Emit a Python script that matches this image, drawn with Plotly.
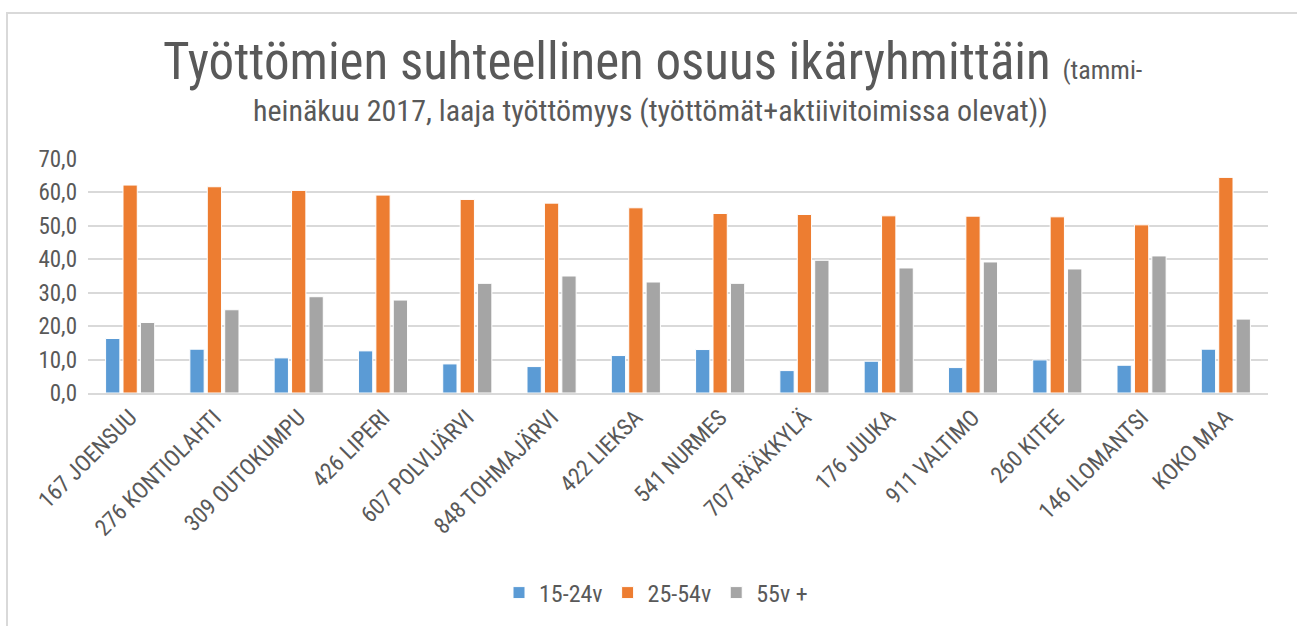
import plotly.graph_objects as go

categories = ["167 JOENSUU", "276 KONTIOLAHTI", "309 OUTOKUMPU", "426 LIPERI", "607 POLVIJÄRVI",
              "848 TOHMAJÄRVI", "422 LIEKSA", "541 NURMES", "707 RÄÄKKYLÄ", "176 JUUKA",
              "911 VALTIMO", "260 KITEE", "146 ILOMANTSI", "KOKO MAA"]
v_15_24 = [16.3, 13.1, 10.5, 12.6, 8.7, 7.9, 11.2, 13.0, 6.7, 9.5, 7.6, 9.9, 8.3, 13.1]
v_25_54 = [62.2, 61.7, 60.6, 59.2, 57.9, 56.8, 55.4, 53.7, 53.4, 53.0, 52.9, 52.7, 50.3, 64.5]
v_55 = [21.1, 24.9, 28.8, 27.8, 32.8, 35.0, 33.2, 32.8, 39.7, 37.4, 39.2, 37.1, 41.0, 22.1]
series_names = ["15-24v", "25-54v", "55v +"]
colors = ["#5B9BD5", "#ED7D31", "#A5A5A5"]

FONT = "Liberation Sans Narrow, Roboto Condensed, Lato, sans-serif"
TXT = "#595959"

fig = go.Figure()
for name, vals, c in zip(series_names, [v_15_24, v_25_54, v_55], colors):
    fig.add_trace(go.Bar(x=categories, y=vals, name=name,
                         marker=dict(color=c, line=dict(color="white", width=1))))

W, H = 1297, 626
ml, mr, mt, mb = 88, 29, 159, 233
pw, ph = W - ml - mr, H - mt - mb


def px(x):
    return (x - ml) / pw


def py(y):
    return (H - mb - y) / ph


fig.update_layout(
    width=W, height=H,
    margin=dict(l=ml, r=mr, t=mt, b=mb, autoexpand=False),
    paper_bgcolor="white", plot_bgcolor="white",
    separators=", ",
    barmode="group", bargap=0.38, bargroupgap=0.18,
    font=dict(family=FONT, color=TXT, size=23),
    legend=dict(orientation="h", x=px(656), xanchor="center", y=py(593), yanchor="middle",
                font=dict(size=24, color=TXT), traceorder="normal", itemwidth=30),
    xaxis=dict(tickangle=-45, showgrid=False, showline=True, linecolor="#D9D9D9", linewidth=2,
               ticks="", tickfont=dict(size=23, color=TXT)),
    yaxis=dict(range=[0, 70], dtick=10, tickformat=".1f", showgrid=True, gridcolor="#D9D9D9",
               gridwidth=2, zeroline=False, showline=False, ticks="",
               tickfont=dict(size=23, color=TXT), ticklabelstandoff=10),
    shapes=[dict(type="rect", xref="paper", yref="paper",
                 x0=px(7), x1=px(1320), y0=py(660), y1=py(13),
                 line=dict(color="#D9D9D9", width=2), fillcolor="rgba(0,0,0,0)", layer="below")],
    annotations=[
        dict(text="Työttömien suhteellinen osuus ikäryhmittäin <span style='font-size:26px'>(tammi-</span>",
             xref="paper", yref="paper", x=px(652), xanchor="center",
             y=py(62), yanchor="middle", showarrow=False,
             font=dict(size=51, color=TXT, family=FONT)),
        dict(text="heinäkuu 2017, laaja työttömyys (työttömät+aktiivitoimissa olevat))",
             xref="paper", yref="paper", x=px(650), xanchor="center",
             y=py(110), yanchor="middle", showarrow=False,
             font=dict(size=30, color=TXT, family=FONT)),
    ],
)
fig.write_html("out.html", config={"displayModeBar": False},
               post_script="document.body.style.margin='0';")
